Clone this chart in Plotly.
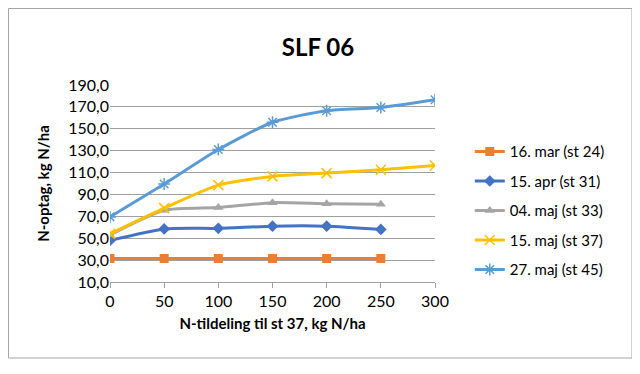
import plotly.graph_objects as go

x_vals = [0, 50, 100, 150, 200, 250, 300]
x_short = [0, 50, 100, 150, 200, 250]

mar16 = [31.5, 31.5, 31.5, 31.5, 31.5, 31.5]
apr15 = [48, 58.5, 59, 61, 61, 58]
maj04 = [53, 75.5, 78, 82.5, 81.5, 81]
maj15 = [54, 77.5, 98.5, 106.5, 109.5, 112.5, 116.5]
maj27 = [69.5, 99.5, 131, 156, 166.5, 169.5, 176.5]

names = ["16. mar (st 24)", "15. apr (st 31)", "04. maj (st 33)", "15. maj (st 37)", "27. maj (st 45)"]
colors = ["#ED7D31", "#4472C4", "#A5A5A5", "#FFC000", "#5B9BD5"]
symbols = ["square", "diamond", "triangle-up", "x-thin-open", "asterisk-open"]
series = [(x_short, mar16), (x_short, apr15), (x_short, maj04), (x_vals, maj15), (x_vals, maj27)]

FONT = "Lato"
W, H = 632, 366
L, T, R, B = 102, 77, 205, 92
PW = W - L - R
PH = H - T - B

fig = go.Figure()
for i, ((xs, ys), n, c, s) in enumerate(zip(series, names, colors, symbols)):
    open_sym = s.endswith("open")
    fig.add_trace(go.Scatter(
        x=xs, y=ys, name=n, mode="lines+markers",
        line=dict(color=c, width=3, shape="spline", smoothing=0.6),
        marker=dict(symbol=s, size=9 if not open_sym else 10, color=c,
                    line=dict(color=c, width=1.5 if open_sym else 0)),
        legendgroup=str(i),
    ))

fig.update_layout(
    width=W, height=H,
    margin=dict(l=L, r=R, t=T, b=B),
    paper_bgcolor="white", plot_bgcolor="white",
    separators=", ",
    font=dict(family=FONT, size=15, color="#000000"),
    title=dict(text="<b>SLF 06</b>", x=310/W, xanchor="center", y=1-40/H, yanchor="middle",
               font=dict(size=24, family=FONT, color="#000")),
    xaxis=dict(range=[0, 300], tickvals=x_vals, showgrid=False, zeroline=False,
               showline=True, linecolor="#A0A0A0", linewidth=1,
               ticks="outside", ticklen=5, tickcolor="#A0A0A0",
               tickfont=dict(size=16, family=FONT),
               title=dict(text="<b>N-tildeling til st 37, kg N/ha</b>", font=dict(size=15, family=FONT), standoff=9)),
    yaxis=dict(range=[10, 190], tick0=10, dtick=20, tickformat=".1f",
               showgrid=True, gridcolor="#A0A0A0", gridwidth=1, zeroline=False,
               showline=False, ticks="", tickfont=dict(size=16, family=FONT),
               title=dict(text="<b>N-optag, kg N/ha</b>", font=dict(size=15, family=FONT), standoff=14)),
    legend=dict(x=1.107, xanchor="left", y=0.745, yanchor="top",
                font=dict(size=15, family=FONT), tracegroupgap=7,
                bgcolor="rgba(0,0,0,0)"),
    shapes=[dict(type="rect", xref="paper", yref="paper",
                 x0=(0.5-L)/PW, x1=(624-L)/PW, y0=(PH+T-350)/PH, y1=(PH+T-0.5)/PH,
                 line=dict(color="#A6A6A6", width=1))],
)

fig.write_html("out.html")
